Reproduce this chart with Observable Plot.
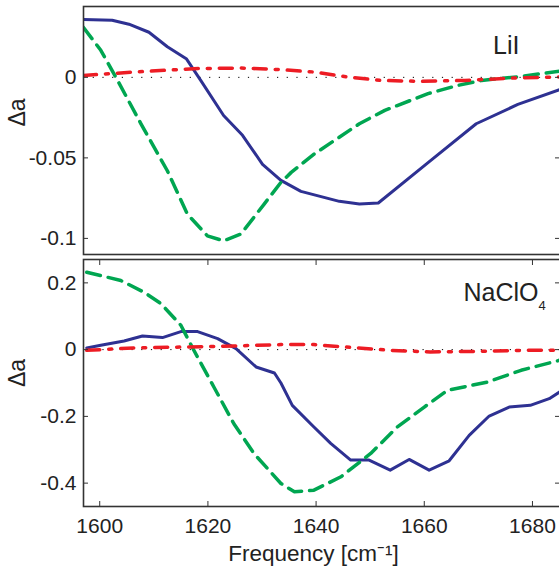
<!DOCTYPE html>
<html><head><meta charset="utf-8">
<script src="https://cdn.jsdelivr.net/npm/d3@7"></script>
<script src="https://cdn.jsdelivr.net/npm/@observablehq/plot@0.6"></script>
<style>
html,body{margin:0;padding:0;background:#fff;overflow:hidden}
#chart svg{display:block;overflow:hidden}
</style>
</head><body><div id="chart"></div>
<script>
// ---------- data ----------
const xTicks = [1600, 1620, 1640, 1660, 1680];
const yTicksTop = [-0.1, -0.05, 0];
const yTicksBot = [-0.4, -0.2, 0, 0.2];

// LiI panel
const liiBlueF = [1597, 1602.3, 1605.4, 1609.1, 1612.5, 1616, 1618.7, 1622.9, 1626.4, 1630.1, 1633.5, 1637.2, 1644.3, 1648, 1651.5, 1660.7, 1669.6, 1677.3, 1685];
const liiBlueV = [0.036, 0.0355, 0.033, 0.028, 0.019, 0.0116, -0.002, -0.0237, -0.036, -0.054, -0.064, -0.0708, -0.077, -0.0787, -0.078, -0.053, -0.0288, -0.0168, -0.0077];
const liiGreenF = [1597, 1600.2, 1603.3, 1607.6, 1612.5, 1616.2, 1619.9, 1622.9, 1626.1, 1630.4, 1633.5, 1635.4, 1639.7, 1648, 1652.7, 1660.7, 1666.2, 1670.6, 1678, 1685];
const liiGreenV = [0.031, 0.0168, -0.0019, -0.0287, -0.058, -0.0849, -0.0984, -0.1015, -0.0973, -0.0787, -0.0652, -0.059, -0.0475, -0.0288, -0.0205, -0.0101, -0.005, -0.0019, 0.0006, 0.0039];
const liiRedF = [1597, 1606.3, 1617.4, 1626.1, 1633.5, 1639.7, 1645.9, 1652.1, 1659.5, 1667.5, 1676.7, 1685];
const liiRedV = [0.0012, 0.0033, 0.0054, 0.0058, 0.0048, 0.0033, 0.0002, -0.0019, -0.0025, -0.0019, -0.0004, 0.0002];

// NaClO4 panel
const naBlueF = [1597.6, 1600.2, 1604.5, 1607.9, 1611.6, 1615, 1618.1, 1621.8, 1625.2, 1628.9, 1632.3, 1633.5, 1635.6, 1639.6, 1642.7, 1646.4, 1649.8, 1653.7, 1657.2, 1660.9, 1664.6, 1668.3, 1672, 1675.7, 1679.6, 1683.1, 1685];
const naBlueV = [0.005, 0.013, 0.026, 0.041, 0.036, 0.054, 0.054, 0.033, 0.003, -0.052, -0.070, -0.10, -0.167, -0.232, -0.281, -0.331, -0.331, -0.361, -0.329, -0.361, -0.333, -0.257, -0.199, -0.172, -0.167, -0.147, -0.127];
const naGreenF = [1597.6, 1603.9, 1608.2, 1611.3, 1615, 1617.4, 1621.1, 1624.8, 1628.5, 1633.5, 1636, 1639.6, 1644.6, 1650.1, 1655, 1660, 1664.3, 1671.7, 1677.9, 1685];
const naGreenV = [0.232, 0.207, 0.172, 0.138, 0.073, -0.002, -0.112, -0.222, -0.311, -0.401, -0.426, -0.421, -0.381, -0.311, -0.232, -0.172, -0.122, -0.097, -0.062, -0.032];
const naRedF = [1597.6, 1606.3, 1616.2, 1624.8, 1633.5, 1639.6, 1647, 1653.7, 1661.1, 1670.3, 1678.9, 1685];
const naRedV = [-0.002, 0.005, 0.008, 0.011, 0.015, 0.015, 0.006, -0.002, -0.007, -0.005, -0.002, -0.002];

// ---------- helpers ----------
const rows = (f, v) => f.map((x, i) => ({f: x, v: v[i]}));
const fmt = d => d === 0 ? "0" : String(d);
const FONT = "'Liberation Sans', Arial, Helvetica, sans-serif";
const BLUE = "#2e3192", GREEN = "#00a651", RED = "#ed1c24", INK = "#222";
const xDomain = [1597, 1685];

function seriesMarks(blue, green, red) {
  return [
    Plot.ruleY([0], {stroke: "#000", strokeWidth: 1, strokeDasharray: "1.2,8.5"}),
    Plot.line(blue, {x: "f", y: "v", stroke: BLUE, strokeWidth: 3, clip: true}),
    Plot.line(green, {x: "f", y: "v", stroke: GREEN, strokeWidth: 3.5, strokeDasharray: "14,8", clip: true}),
    Plot.line(red, {x: "f", y: "v", stroke: RED, strokeWidth: 3.5, strokeDasharray: "13,9,3,9", clip: true})
  ];
}
function yAxes(ticks) {
  return [
    Plot.axisY({ticks, tickSize: 0, tickPadding: 7, tickFormat: fmt, fontSize: 21, fill: INK, label: null}),
    Plot.axisY({ticks, tickSize: -5, tickFormat: () => "", stroke: "#333", label: null}),
    Plot.axisY({ticks, anchor: "right", tickSize: -5, tickFormat: () => "", stroke: "#333", label: null})
  ];
}

const topPanel = Plot.plot({
  width: 559, height: 256,
  marginTop: 6, marginBottom: 2, marginLeft: 83, marginRight: 0,
  style: {fontFamily: FONT, background: "#fff"},
  x: {domain: xDomain, axis: null},
  y: {domain: [-0.110, 0.044]},
  marks: [
    ...seriesMarks(rows(liiBlueF, liiBlueV), rows(liiGreenF, liiGreenV), rows(liiRedF, liiRedV)),
    Plot.frame({stroke: "#333", strokeWidth: 1.6, insetRight: -4}),
    ...yAxes(yTicksTop),
    Plot.text(["LiI"], {frameAnchor: "top-right", textAnchor: "end", lineAnchor: "top", dx: -40, dy: 30, fontSize: 25, fill: INK}),
    Plot.text(["Δa"], {frameAnchor: "left", rotate: -90, dx: -66, dy: -4, fontSize: 23, fill: INK})
  ]
});

const botPanel = Plot.plot({
  width: 559, height: 316,
  marginTop: 3, marginBottom: 66, marginLeft: 83, marginRight: 0,
  style: {fontFamily: FONT, background: "#fff"},
  x: {domain: xDomain},
  y: {domain: [-0.47, 0.27]},
  marks: [
    ...seriesMarks(rows(naBlueF, naBlueV), rows(naGreenF, naGreenV), rows(naRedF, naRedV)),
    Plot.frame({stroke: "#333", strokeWidth: 1.6, insetRight: -4}),
    ...yAxes(yTicksBot),
    Plot.axisX({ticks: xTicks, tickSize: 0, tickPadding: 12, tickFormat: d => String(d), fontSize: 21, fill: INK, label: null}),
    Plot.axisX({ticks: xTicks, tickSize: -5, tickFormat: () => "", stroke: "#333", label: null}),
    Plot.axisX({ticks: xTicks, anchor: "top", tickSize: -5, tickFormat: () => "", stroke: "#333", label: null}),
    Plot.text(["NaClO"], {frameAnchor: "top-right", textAnchor: "end", lineAnchor: "top", dx: -21, dy: 24, fontSize: 25, fill: INK}),
    Plot.text(["4"], {frameAnchor: "top-right", textAnchor: "start", lineAnchor: "top", dx: -21, dy: 41, fontSize: 13, fill: INK}),
    Plot.text(["Δa"], {frameAnchor: "left", rotate: -90, dx: -66, dy: 4, fontSize: 23, fill: INK}),
    Plot.text(["Frequency [cm⁻¹]"], {frameAnchor: "bottom", lineAnchor: "top", dx: -8, dy: 39, fontSize: 22.5, fill: INK})
  ]
});

const el = document.getElementById("chart");
el.appendChild(topPanel);
el.appendChild(botPanel);
</script></body></html>
